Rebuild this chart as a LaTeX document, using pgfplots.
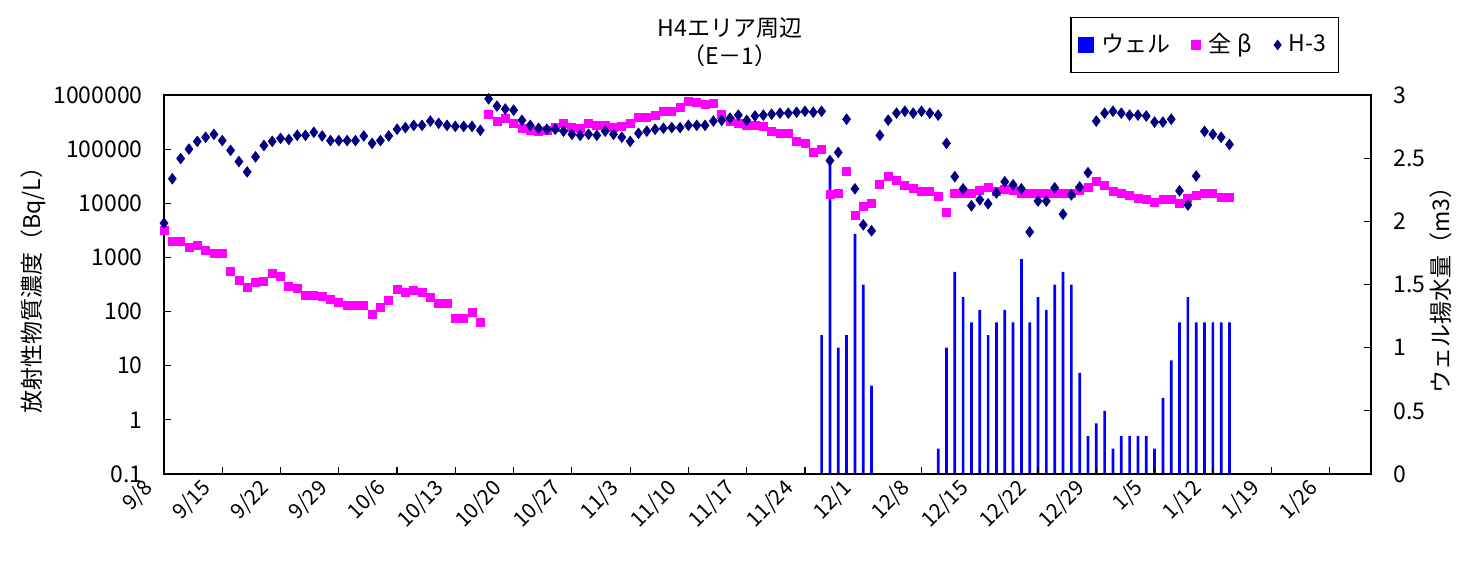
\documentclass[border=0pt]{standalone}
\usepackage{fontspec}
\setmainfont{Noto Sans CJK JP}
\usepackage{pgfplots}
\pgfplotsset{compat=1.18}
\definecolor{hnavy}{RGB}{0,0,128}
\definecolor{bmag}{RGB}{255,0,255}
\definecolor{wblue}{RGB}{0,0,255}
\pgfplotsset{myax/.style={at={(82pt,44pt)}, anchor=south west, scale only axis,
  width=603.5pt, height=189.5pt, xmin=0, xmax=145,
  tick align=inside, major tick length=3.5pt,
  tick style={line width=0.6pt, black},
  axis line style={line width=1.2pt}}}
\begin{document}
\fontsize{11.5pt}{13.8pt}\selectfont
\begin{tikzpicture}
\path[use as bounding box] (0,0) rectangle (733.5pt,281pt);
% right axis with bars
\begin{axis}[myax, ymin=0, ymax=3,
  axis y line*=right, axis x line=none,
  ytick={0,0.5,1,1.5,2,2.5,3},
  yticklabels={0,0.5,1,1.5,2,2.5,3},
  yticklabel style={anchor=west, inner sep=0pt, xshift=11pt},
  ylabel={ウェル揚水量（m3）},
  every axis y label/.style={at={(axis description cs:1,0.5)}, anchor=center, xshift=35pt, rotate=90},
]
\addplot[ybar, bar width=1.35pt, fill=wblue, draw=none] coordinates {
(79,1.1)(80,2.5)(81,1.0)(82,1.1)(83,1.9)(84,1.5)(85,0.7)
(93,0.2)(94,1.0)(95,1.6)(96,1.4)(97,1.2)(98,1.3)(99,1.1)(100,1.2)(101,1.3)(102,1.2)
(103,1.7)(104,1.2)(105,1.4)(106,1.3)(107,1.5)(108,1.6)(109,1.5)(110,0.8)(111,0.3)(112,0.4)
(113,0.5)(114,0.2)(115,0.3)(116,0.3)(117,0.3)(118,0.3)(119,0.2)(120,0.6)(121,0.9)(122,1.2)
(123,1.4)(124,1.2)(125,1.2)(126,1.2)(127,1.2)(128,1.2)
};
\end{axis}
% left log axis
\begin{axis}[myax, ymode=log, ymin=0.1, ymax=1000000,
  ytick={0.1,1,10,100,1000,10000,100000,1000000},
  yticklabels={0.1,1,10,100,1000,10000,100000,1000000},
  yminorticks=false,
  ytick pos=left, xtick pos=bottom,
  xtick={0,7,...,140},
  xticklabels={9/8,9/15,9/22,9/29,10/6,10/13,10/20,10/27,11/3,11/10,11/17,11/24,12/1,12/8,12/15,12/22,12/29,1/5,1/12,1/19,1/26},
  every x tick label/.style={xshift=-7.4pt, yshift=-5.4pt, rotate=45, anchor=east, inner sep=0pt,
    font=\fontsize{10.5pt}{12pt}\selectfont},
  yticklabel style={anchor=east, inner sep=0pt, xshift=-10.5pt},
  ylabel={放射性物質濃度（Bq/L）},
  every axis y label/.style={at={(axis description cs:0,0.5)}, anchor=center, xshift=-65.5pt, rotate=90},
  title={H4エリア周辺\\（E－1）},
  every axis title/.style={at={(axis description cs:0.469,1.1385)}, anchor=center, align=center},
  legend columns=3,
  legend style={at={(axis description cs:0.9735,1.206)}, anchor=north east, draw=black, line width=0.6pt,
    inner xsep=4pt, inner ysep=6pt,
    /tikz/every odd column/.append style={column sep=2pt},
    /tikz/every even column/.append style={column sep=9pt}},
  legend image code/.code={\draw[#1] plot coordinates {(0.12cm,0cm)};},
]
\addlegendimage{only marks, mark=square*, mark size=3.5pt, mark options={fill=wblue, draw=wblue}}
\addlegendentry{ウェル}
\addlegendimage{only marks, mark=square*, mark size=2.2pt, mark options={fill=bmag, draw=bmag}}
\addlegendentry{全\hspace{3pt}β}
\addlegendimage{only marks, mark=diamond*, mark size=2.2pt, mark options={fill=hnavy, draw=hnavy}}
\addlegendentry{H-3}
% beta
\addplot[forget plot, only marks, mark=square*, mark size=2pt, mark options={fill=bmag, draw=bmag}] coordinates {
(0,3200)(1,2000)(2,2000)(3,1550)(4,1700)(5,1350)(6,1200)(7,1200)(8,550)(9,370)
(10,275)(11,350)(12,360)(13,500)(14,445)(15,290)(16,265)(17,195)(18,195)(19,190)
(20,165)(21,145)(22,128)(23,128)(24,128)(25,88)(26,117)(27,160)(28,255)(29,225)
(30,245)(31,225)(32,183)(33,142)(34,142)(35,74)(36,76)(37,96)(38,62)
(39,430000)(40,330000)(41,375000)(42,300000)(43,243000)(44,223000)(45,213000)(46,223000)(47,250000)(48,300000)
(49,250000)(50,243000)(51,300000)(52,275000)(53,275000)(54,250000)(55,260000)(56,300000)(57,390000)(58,390000)
(59,425000)(60,500000)(61,500000)(62,600000)(63,770000)(64,745000)(65,680000)(66,710000)(67,442000)(68,330000)
(69,300000)(70,275000)(71,275000)(72,263000)(73,213000)(74,196000)(75,196000)(76,139000)(77,128000)(78,87000)
(79,98000)(80,14300)(81,15500)(82,38000)(83,6100)(84,8600)(85,10000)(86,22000)(87,31000)(88,26000)
(89,21000)(90,18500)(91,16300)(92,16300)(93,13200)(94,6900)(95,15000)(96,15000)(97,15500)(98,17000)
(99,19300)(100,16300)(101,17700)(102,17000)(103,15000)(104,15000)(105,15500)(106,15500)(107,15000)(108,15500)
(109,15000)(110,17000)(111,20000)(112,25000)(113,21000)(114,16300)(115,15000)(116,14000)(117,12500)(118,12000)
(119,10600)(120,12000)(121,12000)(122,9800)(123,12500)(124,14000)(125,15000)(126,15000)(127,13000)(128,13000)
};
% H-3
\addplot[forget plot, only marks, mark=diamond*, mark size=2.6pt, mark options={fill=hnavy, draw=hnavy}] coordinates {
(0,4300)(1,28400)(2,67000)(3,100000)(4,139000)(5,166000)(6,188000)(7,144000)(8,95000)(9,59000)
(10,38000)(11,72000)(12,117000)(13,139000)(14,158000)(15,151000)(16,180000)(17,180000)(18,205000)(19,175000)
(20,144000)(21,144000)(22,144000)(23,144000)(24,175000)(25,128000)(26,144000)(27,175000)(28,233000)(29,250000)
(30,275000)(31,275000)(32,330000)(33,300000)(34,275000)(35,263000)(36,263000)(37,263000)(38,223000)(39,850000)
(40,624000)(41,550000)(42,525000)(43,340000)(44,275000)(45,243000)(46,233000)(47,233000)(48,215000)(49,188000)
(50,180000)(51,188000)(52,180000)(53,215000)(54,188000)(55,166000)(56,139000)(57,196000)(58,215000)(59,233000)
(60,243000)(61,250000)(62,250000)(63,275000)(64,275000)(65,275000)(66,330000)(67,340000)(68,375000)(69,425000)
(70,340000)(71,410000)(72,425000)(73,442000)(74,462000)(75,462000)(76,480000)(77,500000)(78,480000)(79,500000)
(80,61500)(81,87000)(82,357000)(83,18500)(84,4000)(85,3100)(86,180000)(87,343000)(88,462000)(89,500000)
(90,462000)(91,500000)(92,462000)(93,425000)(94,128000)(95,31000)(96,18500)(97,9000)(98,11600)(99,9800)
(100,15500)(101,25000)(102,22000)(103,18500)(104,2950)(105,11000)(106,11000)(107,19300)(108,6300)(109,14300)
(110,20000)(111,36800)(112,330000)(113,462000)(114,500000)(115,462000)(116,425000)(117,425000)(118,410000)(119,316000)
(120,316000)(121,357000)(122,17000)(123,9300)(124,32000)(125,213000)(126,188000)(127,166000)(128,122000)
};
\end{axis}
\end{tikzpicture}
\end{document}
